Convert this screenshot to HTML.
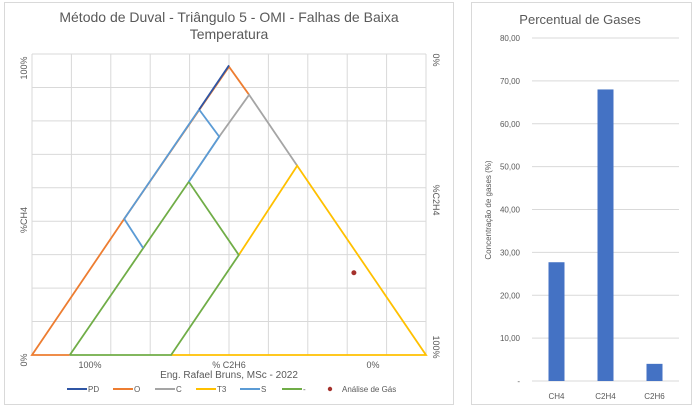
<!DOCTYPE html>
<html><head><meta charset="utf-8"><style>
body{margin:0;background:#fff;font-family:"Liberation Sans",sans-serif;}
svg{display:block}
text{font-family:"Liberation Sans",sans-serif;fill:#595959}
</style></head><body>
<svg id="c" width="695" height="409"></svg>
<script>
// ---- Triangle data (ternary cartesian coords: x 0..100, y 0..90) ----
const seriesNames = ["PD","O","C","T3","S","-"];
const seriesColors = ["#2f55a4","#ed7d31","#a5a5a5","#ffc000","#5b9bd5","#70ad47"];
const seriesPD = [[42.4,73.4],[50,86.6]];
const seriesO = [[9.6,0],[0,0],[23.4,40.7],[50,86.2],[55.1,77.8]];
const seriesC = [[67.3,56.6],[55.1,77.8],[47.5,65.3],[39.8,51.8]];
const seriesT3 = [[52.5,29.9],[67.3,56.6],[100,0],[35.3,0]];
const seriesS = [[28.2,32],[23.4,40.7],[42.4,73.4],[47.5,65.3],[39.8,51.8]];
const seriesG = [[9.6,0],[39.8,51.8],[52.5,29.9],[35.3,0],[9.6,0]];
const gasPoint = [81.7,24.6];
// ---- Bar data ----
const barCats = ["CH4","C2H4","C2H6"];
const barVals = [27.7,68.0,4.0];
const barTicks = ["-","10,00","20,00","30,00","40,00","50,00","60,00","70,00","80,00"];

const NS="http://www.w3.org/2000/svg";
const svg=document.getElementById('c');
function mk(tag,attrs,parent){const e=document.createElementNS(NS,tag);for(const k in attrs)e.setAttribute(k,attrs[k]);(parent||svg).appendChild(e);return e;}
function tx(x,y,s,size,anchor,rot){const e=mk('text',{x:x,y:y,'font-size':size,'text-anchor':anchor||'middle'});if(rot)e.setAttribute('transform','rotate('+rot+' '+x+' '+y+')');e.textContent=s;return e;}

// panels
let p1=mk('rect',{x:4.5,y:2.5,width:449,height:402,fill:'#fff',stroke:'#d9d9d9'});


let p2=mk('rect',{x:471.5,y:2.5,width:220,height:402,fill:'#fff',stroke:'#d9d9d9'});



// triangle axes
const X0=32,X1=426,Y0=355,YT=54;
const tX=v=>X0+(X1-X0)*v/100;
const tY=v=>Y0-(Y0-YT)*v/90;
for(let i=0;i<=10;i++){let g=mk('line',{x1:tX(i*10),x2:tX(i*10),y1:YT,y2:Y0,stroke:'#d9d9d9'});}
for(let i=0;i<=9;i++){let g=mk('line',{x1:X0,x2:X1,y1:tY(i*10),y2:tY(i*10),stroke:'#d9d9d9'});}

let t1=tx(229,22,'Método de Duval - Triângulo 5 - OMI - Falhas de Baixa',14);

let t2=tx(229,39,'Temperatura',14);


const lbls=[[27,68,'100%',-90],[27,220,'%CH4',-90],[27,360,'0%',-90],[433,60,'0%',90],[433,200,'%C2H4',90],[433,347,'100%',90]];
lbls.forEach(l=>{let e=tx(l[0],l[1],l[2],9,'middle',l[3]);});
[[90,'100%'],[229,'% C2H6'],[373,'0%']].forEach(l=>{let e=tx(l[0],368,l[1],9);});
let ft=tx(229,378,'Eng. Rafael Bruns, MSc - 2022',10);


const allSeries=[seriesPD,seriesO,seriesC,seriesT3,seriesS,seriesG];
const drawOrder=[1,2,3,5,4,0];
drawOrder.forEach(i=>{
  const pts=allSeries[i].map(p=>tX(p[0]).toFixed(1)+','+tY(p[1]).toFixed(1)).join(' ');
  const pl=mk('polyline',{points:pts,fill:'none',stroke:seriesColors[i],'stroke-width':1.8});
  
  
});
let gp=mk('circle',{cx:tX(gasPoint[0]),cy:tY(gasPoint[1]),r:2.5,fill:'#a5312c'});


// legend
const legX=[67,113,155,196,240,282];
seriesNames.forEach((n,i)=>{
  const g=mk('g',{});
  
  
  mk('line',{x1:legX[i],x2:legX[i]+20,y1:389,y2:389,stroke:seriesColors[i],'stroke-width':2},g);
  const t=mk('text',{x:legX[i]+21,y:392,'font-size':8},g);t.textContent=n;
});
const lg=mk('g',{});


mk('circle',{cx:330,cy:389,r:2.2,fill:'#a5312c'},lg);
const lt=mk('text',{x:342,y:392,'font-size':8},lg);lt.textContent='Análise de Gás';

// bar chart
const BX0=532,BX1=679,BY0=381,BYT=38;
const bY=v=>BY0-(BY0-BYT)*v/80;
const bandW=(BX1-BX0)/barCats.length;
const bX=i=>BX0+bandW*(i+0.5);
let bt=tx(580,24,'Percentual de Gases',13);

barTicks.forEach((s,i)=>{
  const g=mk('line',{x1:BX0,x2:BX1,y1:bY(i*10),y2:bY(i*10),stroke:'#d9d9d9'});
  
  const t=tx(520,bY(i*10)+3,s,8,'end');
  
});
barVals.forEach((v,i)=>{
  const r=mk('rect',{x:bX(i)-8,y:bY(v),width:16,height:BY0-bY(v),fill:'#4472c4'});
  
  
  const t=tx(bX(i),399,barCats[i],8);
  
});
let yt=tx(491,210,'Concentração de gases (%)',8,'middle',-90);

</script>
</body></html>
